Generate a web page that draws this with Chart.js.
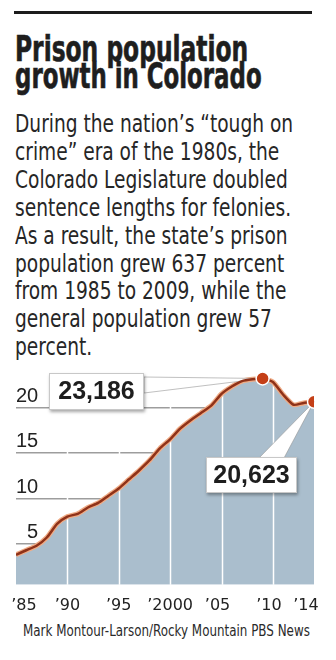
<!DOCTYPE html>
<html>
<head>
<meta charset="utf-8">
<script src="https://cdn.jsdelivr.net/npm/chart.js@4.4.1/dist/chart.umd.min.js"></script>
<style>
  html, body { margin: 0; padding: 0; background: #fff; }
  body { width: 336px; height: 660px; position: relative; overflow: hidden; }
  .rule { position: absolute; left: 14px; top: 11px; width: 298px; height: 3px; background: #1c1c1c; }
  .fit { position: absolute; left: 15px; white-space: nowrap; transform-origin: 0 0; color: #1e1e1e; }
  .title { font: 700 35px/26.3px "Liberation Sans Narrow", "DejaVu Sans Condensed", "Roboto", sans-serif; -webkit-text-stroke: 0.6px #1e1e1e; }
  .deck { top: 110px; font: 400 25px/27.9px "Liberation Sans Narrow", "DejaVu Sans Condensed", "Roboto", sans-serif; color: #262626; }
  .credit { top: 622px; font: 400 15px/18px "Liberation Sans Narrow", "DejaVu Sans Condensed", "Roboto", sans-serif; color: #2a2a2a; }
  #wrap { position: absolute; left: 0; top: 350px; width: 336px; height: 282px; }
</style>
</head>
<body>
<div class="rule"></div>
<div class="fit title" style="top:36px" data-w="233">Prison population</div>
<div class="fit title" style="top:62.5px" data-w="247">growth in Colorado</div>
<div class="fit deck" data-w="278" data-first="1">
  <div>During the nation’s “tough on</div>
  <div>crime” era of the 1980s, the</div>
  <div>Colorado Legislature doubled</div>
  <div>sentence lengths for felonies.</div>
  <div>As a result, the state’s prison</div>
  <div>population grew 637 percent</div>
  <div>from 1985 to 2009, while the</div>
  <div>general population grew 57</div>
  <div>percent.</div>
</div>
<div class="fit credit" style="left:23px" data-w="287">Mark Montour-Larson/Rocky Mountain PBS News</div>

<div id="wrap"><canvas id="prisonChart"></canvas></div>

<script>
// Colorado prison population, by year
const years = [1985, 1986, 1987, 1988, 1989, 1990, 1991, 1992, 1993, 1994,
               1995, 1996, 1997, 1998, 1999, 2000, 2001, 2002, 2003, 2004,
               2005, 2006, 2007, 2008, 2009, 2010, 2011, 2012, 2013, 2014];
const prisonPop = [3800, 4300, 4800, 5700, 7200, 8000, 8300, 9000, 9500, 10300,
                   11100, 12100, 13100, 14200, 15500, 16500, 17700, 18600, 19400, 20200,
                   21500, 22300, 22900, 23100, 23186, 22800, 21400, 20300, 20500, 20623];

// axis ticks
const xTickYears = [1985, 1990, 1995, 2000, 2005, 2010, 2014];
const xTickLabels = ["’85", "’90", "’95", "’2000", "’05", "’10", "’14"];
const yTickValues = [5000, 10000, 15000, 20000];
const yTickLabels = ["5", "10", "15", "20"];

// points that get a callout
const peakIdx = prisonPop.indexOf(Math.max(...prisonPop));
const lastIdx = prisonPop.length - 1;

// scale text blocks to their column widths
document.querySelectorAll(".fit").forEach(function(el) {
    const target = +el.dataset.w;
    const w = el.dataset.first ? el.firstElementChild.scrollWidth : el.scrollWidth;
    el.style.transform = "scaleX(" + (target / w) + ")";
});

const points = years.map((y, i) => ({ x: y, y: prisonPop[i] }));

// nudge year labels so the end ones stay inside the plot
function padLabel(i) {
    const t = xTickLabels[i];
    if (i === 0) return "\u2003" + t;
    if (i === xTickLabels.length - 1) return t + "\u2003";
    if (i >= 4) return t + "\u2002";
    return t;
}

// white year lines drawn over the filled area, under the line
const yearLines = {
    id: "yearLines",
    afterDatasetDraw(chart, args) {
        if (args.index !== 0) return;
        const ctx = chart.ctx, xs = chart.scales.x, area = chart.chartArea;
        ctx.save();
        ctx.strokeStyle = "#ffffff";
        ctx.lineWidth = 1.5;
        xTickYears.slice(1, -1).forEach(function(v) {
            const px = Math.round(xs.getPixelForValue(v)) + 0.5;
            ctx.beginPath();
            ctx.moveTo(px, area.bottom);
            ctx.lineTo(px, area.top);
            ctx.stroke();
        });
        ctx.restore();
    }
};

// boxed value labels with a pointer wedge to the marker
const callouts = {
    id: "callouts",
    afterDatasetDraw(chart, args, opts) {
        if (args.index !== 1) return;
        const ctx = chart.ctx;
        const meta = chart.getDatasetMeta(2);
        opts.items.forEach(function(c) {
            const pt = meta.data[c.index];
            ctx.save();
            // wedge
            ctx.beginPath();
            ctx.moveTo(c.base[0][0], c.base[0][1]);
            ctx.lineTo(pt.x, pt.y);
            ctx.lineTo(c.base[1][0], c.base[1][1]);
            ctx.closePath();
            ctx.fillStyle = "#ffffff";
            ctx.fill();
            ctx.strokeStyle = "rgba(150,150,150,0.6)";
            ctx.lineWidth = 1;
            ctx.stroke();
            // box
            ctx.shadowColor = "rgba(0,0,0,0.35)";
            ctx.shadowBlur = 3;
            ctx.shadowOffsetX = 1;
            ctx.shadowOffsetY = 2;
            ctx.fillStyle = "#ffffff";
            ctx.fillRect(c.box[0], c.box[1], c.box[2], c.box[3]);
            ctx.shadowColor = "transparent";
            ctx.strokeStyle = "#c8c8c8";
            ctx.strokeRect(c.box[0] + 0.5, c.box[1] + 0.5, c.box[2] - 1, c.box[3] - 1);
            // value
            ctx.fillStyle = "#1e1e1e";
            ctx.font = "700 25px 'Liberation Sans', Arial, sans-serif";
            ctx.textAlign = "center";
            ctx.textBaseline = "middle";
            ctx.fillText(prisonPop[c.index].toLocaleString("en-US"),
                         c.box[0] + c.box[2] / 2, c.box[1] + c.box[3] / 2 + 1);
            ctx.restore();
        });
    }
};

const ctx = document.getElementById("prisonChart");
new Chart(ctx, {
    type: "line",
    data: {
        datasets: [
            {
                // filled area
                data: points,
                fill: "start",
                backgroundColor: "#aabecd",
                borderWidth: 0,
                pointRadius: 0,
                tension: 0.2,
                order: 3
            },
            {
                // soft orange edge of the line
                data: points,
                fill: false,
                borderColor: "#efab85",
                borderWidth: 5,
                pointRadius: 0,
                tension: 0.2,
                order: 2
            },
            {
                data: points,
                fill: false,
                borderColor: "#8f3219",
                borderWidth: 2.5,
                tension: 0.2,
                pointRadius: (c) => (c.dataIndex === peakIdx || c.dataIndex === lastIdx) ? 6.5 : 0,
                pointBackgroundColor: "#c43f17",
                pointBorderColor: "#ffffff",
                pointBorderWidth: 1.5,
                order: 1
            }
        ]
    },
    options: {
        responsive: true,
        maintainAspectRatio: false,
        animation: false,
        events: [],
        layout: { padding: { left: 16, right: 22, top: 11, bottom: 6 } },
        plugins: {
            legend: { display: false },
            tooltip: { enabled: false },
            callouts: {
                items: [
                    { index: peakIdx, box: [49, 23, 95, 37], base: [[144, 27], [144, 43]] },
                    { index: lastIdx, box: [206, 107, 91, 36], base: [[259, 108], [284, 108]] }
                ]
            }
        },
        scales: {
            x: {
                type: "linear",
                min: 1985,
                max: 2014,
                afterBuildTicks: (s) => { s.ticks = xTickYears.map(v => ({ value: v })); },
                // edge labels may hang past the plot
                afterFit: (s) => { s.paddingLeft = 0; s.paddingRight = 0; },
                grid: { display: false, drawTicks: false, tickLength: 0 },
                border: { display: false },
                ticks: {
                    padding: 11,
                    maxRotation: 0,
                    autoSkip: false,
                    color: "#222",
                    font: { family: "'DejaVu Sans', sans-serif", size: 16 },
                    callback: (v, i) => padLabel(i)
                }
            },
            y: {
                min: 500,
                max: 25000,
                afterBuildTicks: (s) => { s.ticks = yTickValues.map(v => ({ value: v })); },
                grid: { color: "#9d9d9d", lineWidth: 1.5, drawTicks: false, tickLength: 0 },
                border: { display: false },
                ticks: {
                    mirror: true,
                    crossAlign: "far",
                    padding: 0,
                    labelOffset: -11,
                    color: "#222",
                    font: { family: "'Liberation Sans', Arial, sans-serif", size: 20 },
                    callback: (v, i) => yTickLabels[i]
                }
            }
        }
    },
    plugins: [yearLines, callouts]
});
</script>
</body>
</html>
